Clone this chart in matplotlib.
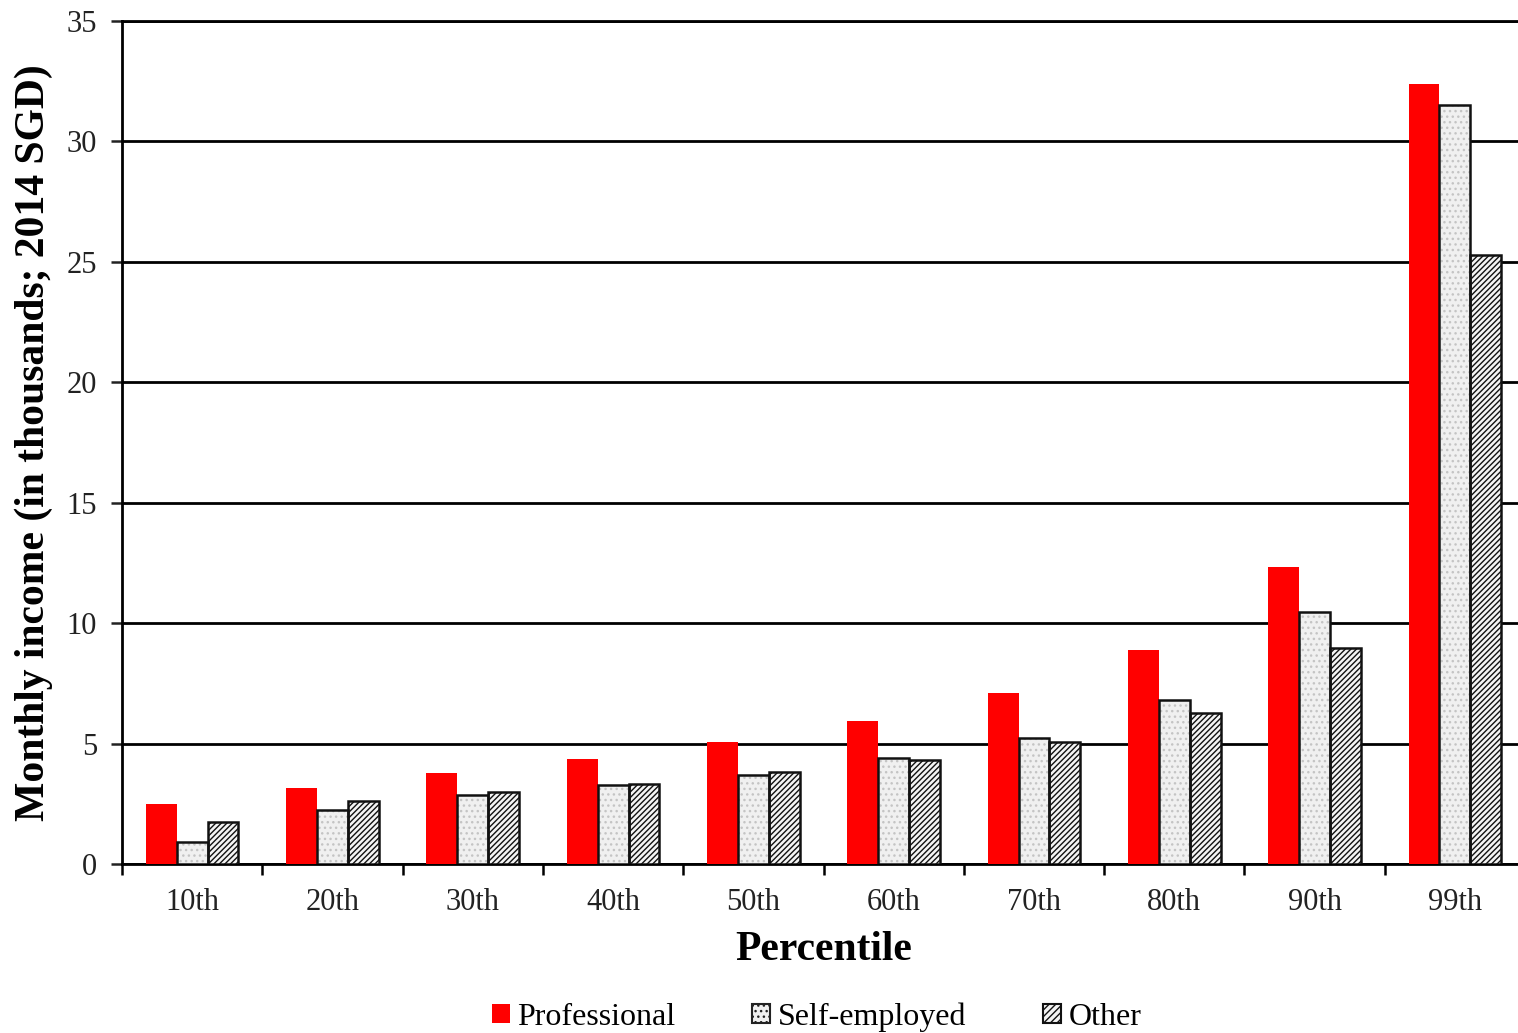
import numpy as np
import matplotlib
matplotlib.use("Agg")
from matplotlib import pyplot as plt
from matplotlib.ticker import MultipleLocator
from matplotlib.patches import Patch

plt.rcParams['font.family'] = ['Liberation Serif', 'DejaVu Serif']
plt.rcParams['hatch.linewidth'] = 1.0

percentiles = ['10th', '20th', '30th', '40th', '50th', '60th', '70th', '80th', '90th', '99th']
professional = [2.49, 3.15, 3.78, 4.36, 5.06, 5.94, 7.10, 8.88, 12.33, 32.38]
self_employed = [0.91, 2.24, 2.86, 3.28, 3.69, 4.40, 5.23, 6.81, 10.46, 31.51]
other = [1.74, 2.62, 2.99, 3.32, 3.82, 4.32, 5.06, 6.27, 8.97, 25.28]

fig = plt.figure(figsize=(15.18, 10.33), dpi=100)
ax = fig.add_axes([0.0804, 0.1636, 0.9242, 0.8161])

x = np.arange(len(percentiles))
w = 0.22
ax.bar(x - w, professional, w, color='#ff0000', edgecolor='none', zorder=3)
# light dotted fill first, black outline on top
ax.bar(x, self_employed, w, color='#f0f0f0', edgecolor='#c4c4c4', hatch='...', linewidth=0, zorder=3)
ax.bar(x, self_employed, w, fill=False, edgecolor='#111111', linewidth=1.8, zorder=4)
ax.bar(x + w, other, w, color='#f4f4f4', edgecolor='#111111', hatch='//////', linewidth=1.8, zorder=3)

ax.set_xlim(-0.5, len(percentiles) - 0.5)
ax.set_ylim(0, 35)
ax.yaxis.set_major_locator(MultipleLocator(5))
ax.yaxis.grid(True, color='black', linewidth=2.0)
ax.set_axisbelow(True)

ax.set_xticks(x)
ax.set_xticklabels(percentiles)
ax.set_xticks(np.arange(-0.5, len(percentiles), 1), minor=True)
ax.tick_params(axis='x', which='major', length=0, labelsize=22, pad=17, colors='#222222')
ax.tick_params(axis='x', which='minor', length=8, width=1.8, direction='out')
ax.tick_params(axis='y', which='major', length=8, width=1.8, direction='out', labelsize=22,
               pad=10, colors='#222222')

for side in ['left', 'bottom', 'top']:
    ax.spines[side].set_linewidth(2.0)
    ax.spines[side].set_color('black')
ax.spines['right'].set_visible(False)

ax.set_ylabel('Monthly income (in thousands; 2014 SGD)', fontsize=30, fontweight='bold', labelpad=10)
ax.set_xlabel('Percentile', fontsize=30, fontweight='bold', labelpad=10)

handles = [
    Patch(facecolor='#ff0000', edgecolor='none', label='Professional'),
    Patch(facecolor='#f0f0f0', edgecolor='#222222', hatch='...', linewidth=1.5, label='Self-employed'),
    Patch(facecolor='#f4f4f4', edgecolor='#111111', hatch='/////', linewidth=1.5, label='Other'),
]
fig.legend(handles=handles, loc='lower center', bbox_to_anchor=(0.538, -0.027), ncol=3, frameon=False,
           fontsize=23, handlelength=0.55, handleheight=0.55, handletextpad=0.25,
           columnspacing=2.4)

fig.savefig('out.png', dpi=100)
